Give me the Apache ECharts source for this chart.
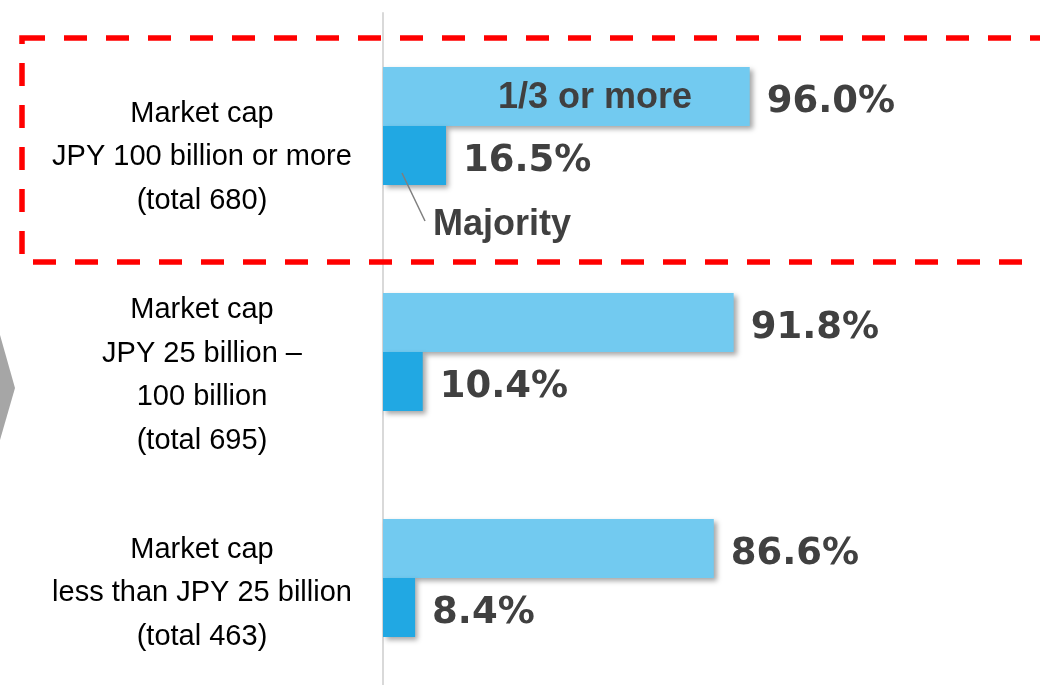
<!DOCTYPE html>
<html>
<head>
<meta charset="utf-8">
<script src="https://cdn.jsdelivr.net/npm/echarts@6/dist/echarts.min.js"></script>
<style>
  html, body { margin: 0; padding: 0; background: #fff; }
  #main { width: 1040px; height: 685px; }
</style>
</head>
<body>
<div id="main"></div>
<script>
// 数据
var categories = [
    'Market cap\nJPY 100 billion or more\n(total 680)',
    'Market cap\nJPY 25 billion –\n100 billion\n(total 695)',
    'Market cap\nless than JPY 25 billion\n(total 463)'
];
var seriesNames = ['1/3 or more', 'Majority'];
var oneThirdValues = [96.0, 91.8, 86.6]; // 1/3以上
var majorityValues = [16.5, 10.4, 8.4]; // 过半数

var chart = echarts.init(document.getElementById('main'));

var valueLabel = {
    show: true,
    position: 'right',
    distance: 17,
    offset: [0, 6],
    fontFamily: 'DejaVu Sans',
    fontWeight: 'bold',
    fontSize: 37,
    color: '#404040',
    formatter: function(p) {
        return p.value.toFixed(1) + '%';
    }
};

var barShadow = {
    shadowBlur: 5,
    shadowOffsetX: 3,
    shadowOffsetY: 3,
    shadowColor: 'rgba(0,0,0,0.35)'
};

var option = {
    animation: false,
    backgroundColor: '#fff',
    grid: {
        left: 383,
        right: 275,
        top: 13,
        height: 678,
        containLabel: false,
        outerBoundsMode: 'none'
    },
    xAxis: {
        type: 'value',
        min: 0,
        max: 100,
        show: false
    },
    yAxis: {
        type: 'category',
        inverse: true,
        data: categories,
        axisLine: { show: true, lineStyle: { color: '#D9D9D9', width: 2 } },
        axisTick: { show: false },
        axisLabel: {
            margin: 181,
            align: 'center',
            fontFamily: 'Liberation Sans',
            fontSize: 29,
            lineHeight: 43.5,
            color: '#000',
            // 每个分类标签向下偏移一点（空白首行）
            formatter: function(value, index) {
                return '{s' + index + '|}\n' + value;
            },
            rich: {
                s0: { lineHeight: 62, height: 62 },
                s1: { lineHeight: 47, height: 47 },
                s2: { lineHeight: 30, height: 30 }
            }
        }
    },
    series: [{
        name: seriesNames[0],
        type: 'bar',
        data: oneThirdValues,
        barWidth: 59,
        barGap: '0%',
        itemStyle: Object.assign({ color: '#72CAF0' }, barShadow),
        label: valueLabel
    }, {
        name: seriesNames[1],
        type: 'bar',
        data: majorityValues,
        barWidth: 59,
        barGap: '0%',
        itemStyle: Object.assign({ color: '#21A8E3' }, barShadow),
        label: valueLabel
    }],
    graphic: [{
        // 红色虚线框
        type: 'rect',
        shape: { x: 22, y: 38, width: 1060, height: 224 },
        style: { fill: null, stroke: '#FF0000', lineWidth: 5.5, lineDash: [23, 19] },
        z: 100
    }, {
        // 左侧灰色箭头
        type: 'polygon',
        shape: { points: [[-30, 335], [0, 335], [15, 388], [0, 440], [-30, 440]] },
        style: { fill: '#A6A6A6' }
    }, {
        type: 'text',
        style: {
            text: seriesNames[0],
            x: 595, y: 98,
            align: 'center', verticalAlign: 'middle',
            fontFamily: 'Liberation Sans', fontWeight: 'bold', fontSize: 36,
            fill: '#404040'
        },
        z: 100
    }, {
        type: 'line',
        shape: { x1: 402, y1: 173, x2: 425, y2: 221 },
        style: { stroke: '#7F7F7F', lineWidth: 1.5 },
        z: 100
    }, {
        type: 'text',
        style: {
            text: seriesNames[1],
            x: 433, y: 225,
            align: 'left', verticalAlign: 'middle',
            fontFamily: 'Liberation Sans', fontWeight: 'bold', fontSize: 36,
            fill: '#404040'
        },
        z: 100
    }]
};

chart.setOption(option);
</script>
</body>
</html>
